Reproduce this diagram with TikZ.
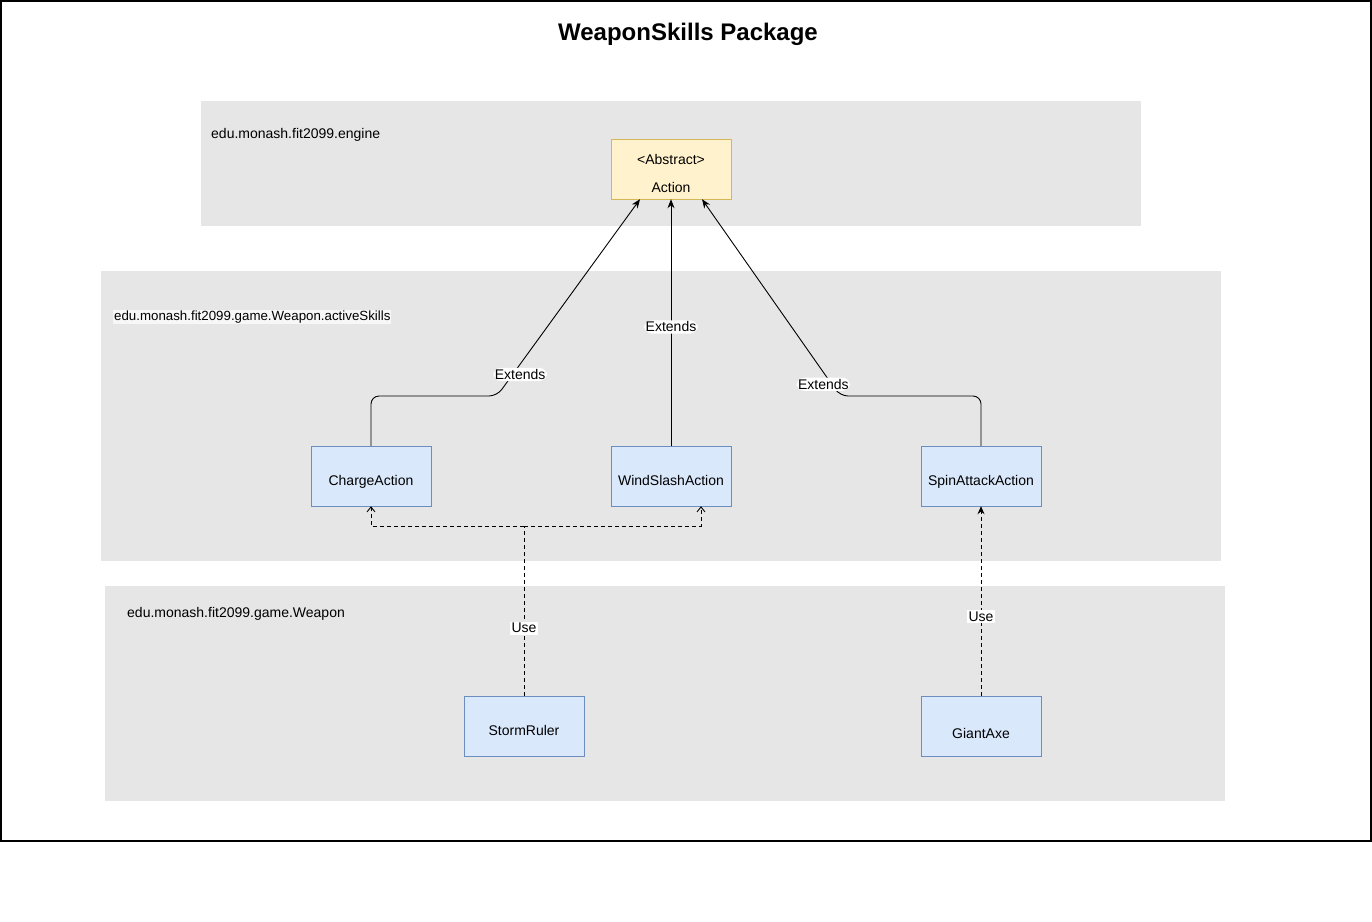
\documentclass[tikz,border=0pt]{standalone}
\usepackage{fontspec}
\setmainfont{Liberation Sans}
\usetikzlibrary{arrows.meta}
\definecolor{pkggray}{HTML}{E6E6E6}
\definecolor{clsfill}{HTML}{DAE8FC}
\definecolor{clsline}{HTML}{6C8EBF}
\definecolor{absfill}{HTML}{FFF2CC}
\definecolor{absline}{HTML}{D6B656}
\begin{document}
\begin{tikzpicture}[x=1pt,y=-1pt,
    pkg/.style={fill=pkggray,draw=none},
    pkgname/.style={anchor=west,inner sep=0pt,yshift=-2pt,font=\fontsize{14}{16}\selectfont},
    cls/.style={draw=clsline,fill=clsfill,minimum width=120pt,minimum height=60pt,inner sep=0pt,text height=19pt,text depth=0pt,font=\fontsize{14}{16}\selectfont},
    lbl/.style={fill=white,inner sep=1.5pt,yshift=-2pt,font=\fontsize{14}{16}\selectfont},
    ext/.style={line width=0.9pt,rounded corners=8pt,-{Stealth[length=9pt,width=7pt]}},
    use/.style={line width=0.9pt,dash pattern=on 4pt off 3pt}]
    \useasboundingbox (0,0) rectangle (1372,921);
    \fill[white] (0,0) rectangle (1372,921);
    \draw[line width=1.5pt] (1,1) rectangle (1371,841);
    \node[font=\fontsize{24}{26}\bfseries] (title) at (688,34) {WeaponSkills Package};
    % packages
    \draw[pkg] (201,101) rectangle (1141,226);
    \draw[pkg] (101,271) rectangle (1221,561);
    \draw[pkg] (105,586) rectangle (1225,801);
    \node[pkgname] (pkgengine) at (211,133) {edu.monash.fit2099.engine};
    \node[pkgname,fill=black!3,inner sep=1pt,font=\fontsize{13.3}{15}\selectfont] (pkgskills) at (113,315) {edu.monash.fit2099.game.Weapon.activeSkills};
    \node[pkgname] (pkgweapon) at (127,612) {edu.monash.fit2099.game.Weapon};
    % classes
    \node[cls,fill=absfill,draw=absline] (act) at (671,169) {};
    \node[font=\fontsize{14}{16}\selectfont] (actst) at (671,159) {<Abstract>};
    \node[font=\fontsize{14}{16}\selectfont] (actnm) at (671,187) {Action};
    \node[cls] (ca) at (371,476) {ChargeAction};
    \node[cls] (ws) at (671,476) {WindSlashAction};
    \node[cls] (sa) at (981,476) {SpinAttackAction};
    \node[cls] (sr) at (524,726) {StormRuler};
    \node[cls,text height=25pt] (ga) at (981,726) {GiantAxe};
    % extends
    \draw[ext] (ca.north) -- (371,396) -- (497,396) -- node[lbl,pos=0.12,xshift=6pt] {Extends} ([xshift=-31pt]act.south);
    \draw[ext] (ws.north) -- node[lbl,pos=0.49] {Extends} (act.south);
    \draw[ext] (sa.north) -- (981,396) -- (840,396) -- node[lbl,pos=0.07,xshift=-7pt] {Extends} ([xshift=31pt]act.south);
    % use
    \coordinate (usej) at (524,526);
    \draw[use] (sr.north) -- node[lbl,pos=0.41] {Use} (usej);
    \draw[use,-{Straight Barb[length=5pt,width=8pt]}] (usej) -| (ca.south);
    \draw[use,-{Straight Barb[length=5pt,width=8pt]}] (usej) -| ([xshift=30pt]ws.south);
    \draw[use,-{Stealth[length=8pt,width=7pt]}] (ga.north) -- node[lbl,pos=0.43] {Use} (sa.south);
\end{tikzpicture}
\end{document}
